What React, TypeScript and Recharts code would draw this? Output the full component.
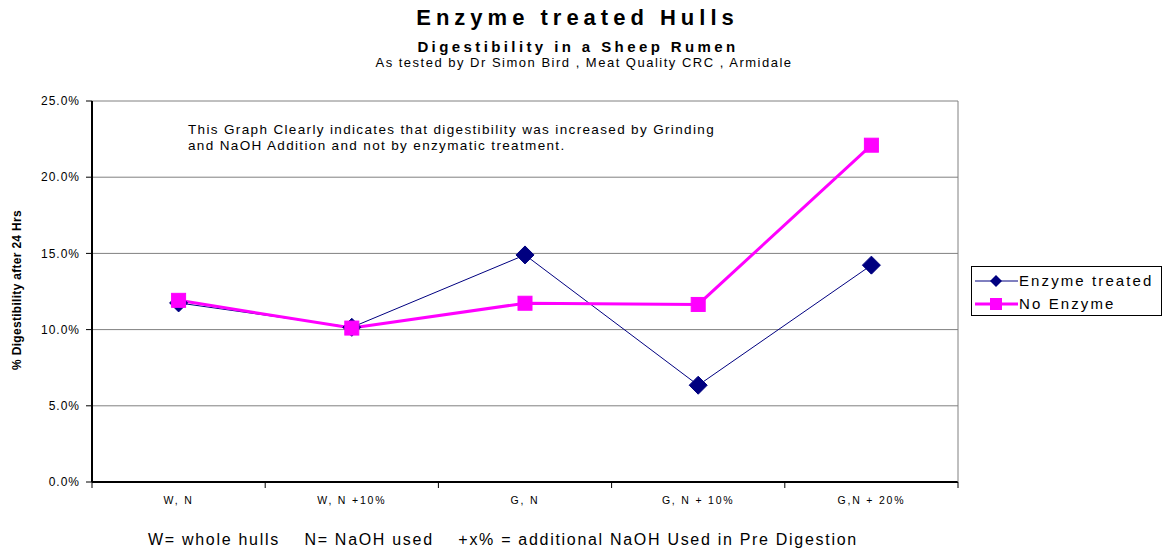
import React from 'react';
import { LineChart, Line, XAxis, YAxis, CartesianGrid, Legend } from 'recharts';

const categories = ['W, N', 'W, N +10%', 'G, N', 'G, N + 10%', 'G,N + 20%'];
const enzymeTreated = [0.1175, 0.1015, 0.149, 0.0635, 0.1423];
const noEnzyme = [0.1192, 0.101, 0.1173, 0.1165, 0.221];
const yTicks = [0, 0.05, 0.1, 0.15, 0.2, 0.25];

const data = categories.map((c, i) => ({ cat: c, enzyme: enzymeTreated[i], none: noEnzyme[i] }));

const FONT = '"Liberation Sans", Arial, sans-serif';
const NAVY = '#000080';
const PINK = '#FF00FF';

const Diamond = (props: any) => {
  const { cx, cy, index } = props;
  if (cx == null || cy == null) return <g key={`d${index}`} />;
  const r = 9;
  return (
    <polygon
      key={`d${index}`}
      points={`${cx},${cy - r} ${cx + r},${cy} ${cx},${cy + r} ${cx - r},${cy}`}
      fill={NAVY}
      stroke={NAVY}
    />
  );
};

const Square = (props: any) => {
  const { cx, cy, index } = props;
  if (cx == null || cy == null) return <g key={`s${index}`} />;
  const s = 14;
  return <rect key={`s${index}`} x={cx - s / 2} y={cy - s / 2} width={s} height={s} fill={PINK} stroke={PINK} />;
};

const CatTick = (props: any) => {
  const { x, y, payload, index } = props;
  const half = payload && payload.offset ? payload.offset : 0;
  const isLast = index === categories.length - 1;
  return (
    <g>
      <line x1={x - half} y1={y - 8} x2={x - half} y2={y - 2} stroke="#000" strokeWidth={1} />
      {isLast && <line x1={x + half} y1={y - 8} x2={x + half} y2={y - 2} stroke="#000" strokeWidth={1} />}
      <text x={x} y={y + 14} textAnchor="middle" fill="#000" fontSize={10.5} letterSpacing={1.8} fontFamily={FONT}>
        {payload.value}
      </text>
    </g>
  );
};

const LegendBox = () => (
  <div
    style={{
      width: 189,
      height: 48,
      border: '1px solid #000',
      background: '#fff',
      fontFamily: FONT,
      fontSize: 15,
      letterSpacing: 2.1,
      color: '#000',
      boxSizing: 'content-box',
      whiteSpace: 'nowrap',
    }}
  >
    <div style={{ display: 'flex', alignItems: 'center', height: 23, marginTop: 2 }}>
      <svg width={47} height={20} style={{ flex: 'none' }}>
        <line x1={3} y1={10} x2={46} y2={10} stroke={NAVY} strokeWidth={1} />
        <polygon points="24,4 30,10 24,16 18,10" fill={NAVY} />
      </svg>
      <span>Enzyme treated</span>
    </div>
    <div style={{ display: 'flex', alignItems: 'center', height: 23 }}>
      <svg width={47} height={20} style={{ flex: 'none' }}>
        <line x1={3} y1={10} x2={46} y2={10} stroke={PINK} strokeWidth={3} />
        <rect x={18} y={4} width={12} height={12} fill={PINK} />
      </svg>
      <span>No Enzyme</span>
    </div>
  </div>
);

export default function App() {
  return (
    <div style={{ position: 'absolute', left: 0, top: 0, width: 1164, height: 554, background: '#fff', fontFamily: FONT }}>
      <div style={{ position: 'absolute', left: 0, width: 1155, top: 4, textAlign: 'center', fontWeight: 'bold', fontSize: 22, letterSpacing: 5, lineHeight: '28px', whiteSpace: 'nowrap' }}>
        Enzyme treated Hulls
      </div>
      <div style={{ position: 'absolute', left: 0, width: 1156, top: 37, textAlign: 'center', fontWeight: 'bold', fontSize: 15, letterSpacing: 3.4, lineHeight: '20px', whiteSpace: 'nowrap' }}>
        Digestibility in a Sheep Rumen
      </div>
      <div style={{ position: 'absolute', left: 0, width: 1168, top: 55, textAlign: 'center', fontSize: 13, letterSpacing: 1.5, lineHeight: '16px', whiteSpace: 'nowrap' }}>
        As tested by Dr Simon Bird , Meat Quality CRC , Armidale
      </div>
      <div style={{ position: 'absolute', left: 188, top: 122, fontSize: 13.5, letterSpacing: 1.35, lineHeight: '16px', zIndex: 2, whiteSpace: 'nowrap' }}>
        This Graph Clearly indicates that digestibility was increased by Grinding
        <br />
        and NaOH Addition and not by enzymatic treatment.
      </div>
      <div
        style={{
          position: 'absolute',
          left: 17,
          top: 290,
          transform: 'translate(-50%, -50%) rotate(-90deg)',
          fontWeight: 'bold',
          fontSize: 12,
          whiteSpace: 'nowrap',
          letterSpacing: 0.3,
        }}
      >
        % Digestibility after 24 Hrs
      </div>
      <div style={{ position: 'absolute', left: 148, top: 530, fontSize: 16, letterSpacing: 1.7, whiteSpace: 'pre', lineHeight: '20px' }}>
        {'W= whole hulls    N= NaOH used    +x% = additional NaOH Used in Pre Digestion'}
      </div>
      <div style={{ position: 'absolute', left: 0, top: 0 }}>
        <LineChart width={1164} height={554} data={data} margin={{ top: 101, right: 205, bottom: 42, left: 32 }}>
          <CartesianGrid vertical={false} stroke="#808080" strokeWidth={1} />
          <XAxis
            dataKey="cat"
            scale="band"
            height={30}
            tickLine={false}
            axisLine={{ stroke: '#000', strokeWidth: 2 }}
            tick={<CatTick />}
            interval={0}
          />
          <YAxis
            width={60}
            domain={[0, 0.25]}
            ticks={yTicks}
            allowDataOverflow
            axisLine={{ stroke: '#000', strokeWidth: 2 }}
            tickLine={{ stroke: '#000' }}
            tickSize={6}
            tickMargin={6}
            tick={{ fill: '#000', fontSize: 12, letterSpacing: 1 }}
            tickFormatter={(v: number) => (v * 100).toFixed(1) + '%'}
          />
          <YAxis
            yAxisId="r"
            orientation="right"
            width={1}
            domain={[0, 0.25]}
            ticks={yTicks}
            axisLine={{ stroke: '#808080', strokeWidth: 1 }}
            tickLine={false}
            tick={false}
          />
          <Legend
            layout="horizontal"
            verticalAlign="middle"
            align="center"
            wrapperStyle={{ position: 'absolute', left: 971, top: 266, width: 191, height: 50 }}
            content={() => <LegendBox />}
          />
          <Line
            type="linear"
            dataKey="enzyme"
            name="Enzyme treated"
            stroke={NAVY}
            strokeWidth={1}
            dot={Diamond}
            activeDot={false}
            isAnimationActive={false}
          />
          <Line
            type="linear"
            dataKey="none"
            name="No Enzyme"
            stroke={PINK}
            strokeWidth={3}
            dot={Square}
            activeDot={false}
            isAnimationActive={false}
          />
        </LineChart>
      </div>
    </div>
  );
}
